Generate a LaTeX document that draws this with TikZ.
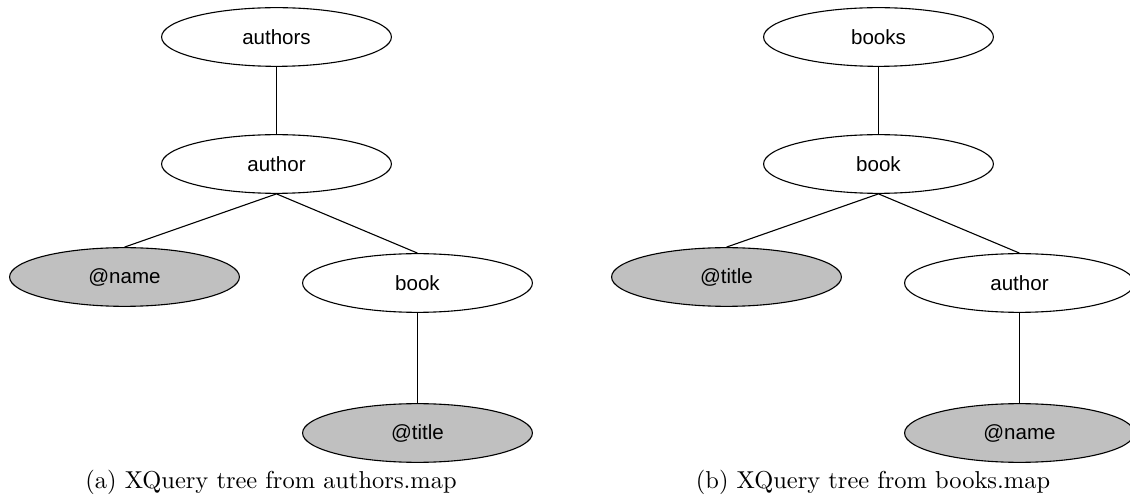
\documentclass[tikz,border=0pt]{standalone}
\usepackage{fontspec}
\newfontfamily\helv{Liberation Sans}
\usetikzlibrary{shapes.geometric}
\definecolor{attrgray}{RGB}{192,192,192}
\begin{document}
\begin{tikzpicture}[x=.409pt,y=-.409pt,line width=.45pt,
  elem/.style={draw,ellipse,minimum width=94pt,minimum height=24pt,
    inner sep=0pt,font=\helv\fontsize{8.4}{10}\selectfont},
  attr/.style={elem,fill=attrgray},
  subcap/.style={font=\fontsize{10}{12}\selectfont}]
  \useasboundingbox (0,0) rectangle (1130,497);
  % (a) tree read from authors.map
  \begin{scope}[shift={(276.5,0)}]
    \node[elem] (a-authors) at (0,37) {authors};
    \node[elem] (a-author) at (0,164) {author};
    \node[attr] (a-name) at (-152,277) {@name};
    \node[elem] (a-book) at (141,283) {book};
    \node[attr] (a-title) at (141,433) {@title};
    \draw (a-authors) -- (a-author);
    \draw (a-author.south) -- (a-name.north);
    \draw (a-author.south) -- (a-book.north);
    \draw (a-book) -- (a-title);
    \node[subcap] (a-cap) at (-5.5,482) {(a) XQuery tree from authors.map};
  \end{scope}
  % (b) tree read from books.map
  \begin{scope}[shift={(878.5,0)}]
    \node[elem] (b-books) at (0,37) {books};
    \node[elem] (b-book) at (0,164) {book};
    \node[attr] (b-title) at (-152,277) {@title};
    \node[elem] (b-author) at (141,283) {author};
    \node[attr] (b-name) at (141,433) {@name};
    \draw (b-books) -- (b-book);
    \draw (b-book.south) -- (b-title.north);
    \draw (b-book.south) -- (b-author.north);
    \draw (b-author) -- (b-name);
    \node[subcap] (b-cap) at (-5.5,482) {(b) XQuery tree from books.map};
  \end{scope}
\end{tikzpicture}
\end{document}
